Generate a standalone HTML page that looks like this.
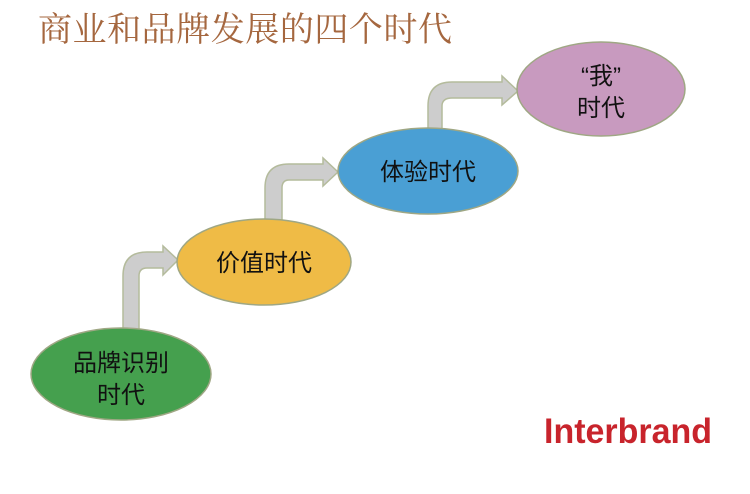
<!DOCTYPE html>
<html><head><meta charset="utf-8"><style>
body{margin:0;background:#fff;width:750px;height:489px;overflow:hidden}
svg text{font-family:"Liberation Sans","Noto Sans CJK SC",sans-serif}
</style></head><body>
<svg width="750" height="489" viewBox="0 0 750 489" xmlns="http://www.w3.org/2000/svg">
<text x="38" y="41" font-size="34" fill="#a5673f" textLength="414" style="font-family:'Liberation Serif','Noto Serif CJK SC',serif">商业和品牌发展的四个时代</text>
<g fill="#cdcdcd" stroke="#b4bb9c" stroke-width="1.5">
<path d="M123,332 V276 Q123,252 147,252 H163 V246 L178,260 L163,275 V268 H147 Q139,268 139,276 V332 Z"/>
<path d="M265,222 V188 Q265,164 289,164 H323 V158 L338,172 L323,186 V180 H289 Q282,180 282,188 V222 Z"/>
<path d="M428,132 V106 Q428,82 452,82 H502 V76 L518,91 L502,105 V98 H452 Q442,98 442,106 V132 Z"/>
</g>
<g stroke="#9fa784" stroke-width="1.5">
<ellipse cx="121" cy="374" rx="90" ry="46" fill="#45a04e"/>
<ellipse cx="264" cy="262" rx="87" ry="43" fill="#efbb46"/>
<ellipse cx="428" cy="171" rx="90" ry="43" fill="#4a9fd4"/>
<ellipse cx="601" cy="89" rx="84" ry="47" fill="#c89abf"/>
</g>
<g font-size="24" fill="#111" text-anchor="middle">
<text x="121" y="371">品牌识别</text>
<text x="121" y="403">时代</text>
<text x="264" y="271">价值时代</text>
<text x="428" y="180">体验时代</text>
<text x="601" y="84">“我”</text>
<text x="601" y="116">时代</text>
</g>
<text x="544" y="443" font-size="35" font-weight="bold" fill="#c8242c" textLength="168" lengthAdjust="spacingAndGlyphs">Interbrand</text>
</svg>
</body></html>
